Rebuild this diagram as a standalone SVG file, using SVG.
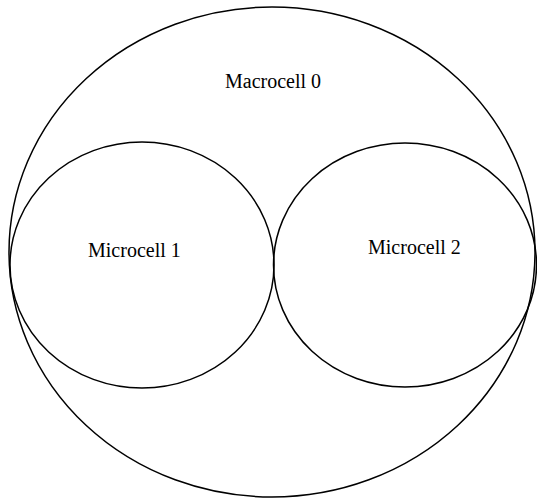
<svg xmlns="http://www.w3.org/2000/svg" width="537" height="499" viewBox="0 0 537 499">
<style>
.c{fill:none;stroke:#000;stroke-width:1.5}
.t{font-family:"Liberation Serif",serif;font-size:20px;fill:#000}
</style>
<rect width="537" height="499" fill="#fff"/>
<g id="macrocell0">
<ellipse class="c" cx="272" cy="252" rx="263" ry="245"/>
<text class="t" x="225" y="88">Macrocell 0</text>
</g>
<g id="microcell1">
<ellipse class="c" cx="142" cy="265" rx="132" ry="123"/>
<text class="t" x="88" y="257">Microcell 1</text>
</g>
<g id="microcell2">
<ellipse class="c" cx="405" cy="265" rx="131.5" ry="122"/>
<text class="t" x="368" y="254">Microcell 2</text>
</g>
<g id="connectors"/>
</svg>
